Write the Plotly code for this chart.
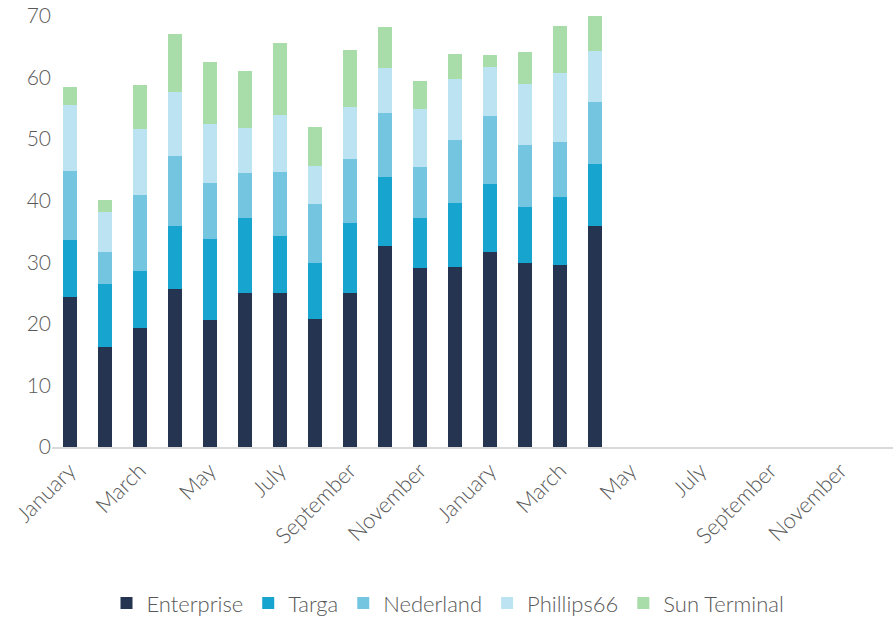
import plotly.graph_objects as go

months = ["January", "February", "March", "April", "May", "June", "July", "August",
          "September", "October", "November", "December"]
categories = months + months  # two years, 24 slots
enterprise = [24.3, 16.3, 19.4, 25.7, 20.7, 25.0, 25.0, 20.8, 25.0, 32.7, 29.0, 29.3, 31.6, 29.9, 29.6, 35.9]
targa      = [9.3, 10.2, 9.2, 10.2, 13.1, 12.2, 9.3, 9.1, 11.4, 11.2, 8.2, 10.3, 11.1, 9.1, 11.0, 10.0]
nederland  = [11.3, 5.2, 12.4, 11.4, 9.1, 7.3, 10.3, 9.5, 10.4, 10.4, 8.3, 10.2, 11.0, 10.0, 9.0, 10.2]
phillips66 = [10.6, 6.4, 10.6, 10.4, 9.5, 7.3, 9.3, 6.3, 8.4, 7.2, 9.4, 10.0, 8.0, 10.0, 11.2, 8.2]
sun_term   = [3.0, 2.0, 7.2, 9.3, 10.2, 9.2, 11.7, 6.2, 9.3, 6.7, 4.6, 4.1, 2.0, 5.1, 7.5, 5.7]

series = [
    ("Enterprise", enterprise, "#253551"),
    ("Targa", targa, "#17a5d0"),
    ("Nederland", nederland, "#74c6e0"),
    ("Phillips66", phillips66, "#bbe3f1"),
    ("Sun Terminal", sun_term, "#a8dca8"),
]

x_idx = list(range(len(enterprise)))
tick_idx = list(range(0, len(categories), 2))
tick_text = [categories[i] for i in tick_idx]

fig = go.Figure()
for name, vals, col in series:
    fig.add_trace(go.Bar(x=x_idx, y=vals, name=name, marker=dict(color=col, line=dict(width=0))))

font_family = "Lato, 'Source Sans Pro', 'Open Sans', sans-serif"
fig.update_layout(
    barmode="stack",
    bargap=0.6,
    width=896, height=620,
    margin=dict(l=52, r=3, t=16, b=173, autoexpand=False),
    paper_bgcolor="white", plot_bgcolor="white",
    font=dict(family=font_family, color="#595959", size=20, weight=300),
    showlegend=True,
    legend=dict(orientation="h", x=0.5, xanchor="center", xref="container",
                y=0.027, yanchor="middle", yref="container",
                font=dict(size=22, color="#595959", weight=300), traceorder="normal", itemwidth=30),
    xaxis=dict(range=[-0.5, 23.5], tickvals=tick_idx, ticktext=tick_text, tickangle=-45,
               showgrid=False, showline=True, linecolor="#d9d9d9", linewidth=2,
               ticks="", tickfont=dict(size=22, color="#595959", weight=300), zeroline=False),
    yaxis=dict(range=[0, 70], dtick=10, showgrid=False, showline=False, zeroline=False,
               ticks="", tickfont=dict(size=21, color="#595959", weight=300)),
)

fig.write_html("out.html")
